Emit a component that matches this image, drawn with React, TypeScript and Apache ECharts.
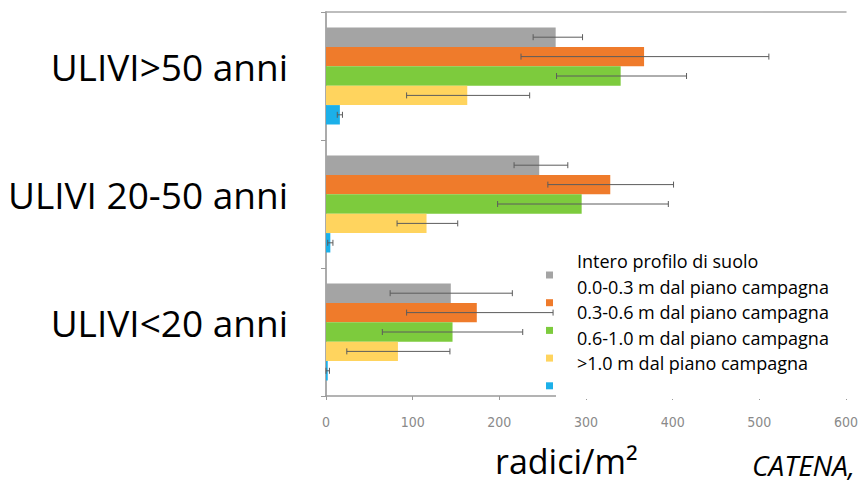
import React, { useEffect, useRef } from 'react';
import * as echarts from 'echarts';

const categories = ['ULIVI>50 anni', 'ULIVI 20-50 anni', 'ULIVI<20 anni'];
const seriesNames = [
  'Intero profilo di suolo',
  '0.0-0.3 m dal piano campagna',
  '0.3-0.6 m dal piano campagna',
  '0.6-1.0 m dal piano campagna',
  '>1.0 m dal piano campagna',
];
const colors = ['#a4a4a4', '#ef7b2b', '#7dcb3d', '#ffd45e', '#1cb0e9'];

// values per series (one per category)
const intero = [265, 246, 144];
const strato1 = [367, 328, 174];
const strato2 = [340, 295, 146];
const strato3 = [163, 116, 83];
const strato4 = [16, 5, 2];

// error bar low / high per series (one per category)
const interoLow = [239, 217, 74];
const interoHigh = [296, 279, 215];
const strato1Low = [225, 256, 93];
const strato1High = [511, 401, 262];
const strato2Low = [266, 198, 65];
const strato2High = [416, 395, 227];
const strato3Low = [93, 82, 24];
const strato3High = [235, 152, 143];
const strato4Low = [13, 2, 0];
const strato4High = [19, 8, 4];

const xTicks = { min: 0, max: 600, interval: 100 };

const values = [intero, strato1, strato2, strato3, strato4];
const lows = [interoLow, strato1Low, strato2Low, strato3Low, strato4Low];
const highs = [interoHigh, strato1High, strato2High, strato3High, strato4High];

const BAR_W = 19.4;
const FRAME = '#a8a8a8';

export default function App() {
  const ref = useRef<HTMLDivElement>(null);
  useEffect(() => {
    document.body.style.margin = '0';
    if (!ref.current) return;
    const chart = echarts.init(ref.current, undefined, { renderer: 'svg' });

    const errData: number[][] = [];
    values.forEach((_, s) => {
      categories.forEach((_, c) => {
        errData.push([c, s, lows[s][c], highs[s][c]]);
      });
    });

    const barSeries = values.map((v, i) => ({
      name: seriesNames[i],
      type: 'bar',
      data: v,
      barWidth: BAR_W,
      barGap: '0%',
      itemStyle: { color: colors[i] },
      z: 2,
    }));

    const option: any = {
      animation: false,
      grid: {
        left: 326,
        top: 12,
        right: 17,
        bottom: 89,
      },
      xAxis: [
        {
          type: 'value',
          min: xTicks.min,
          max: xTicks.max,
          interval: xTicks.interval,
          splitLine: { show: false },
          axisLine: { show: true, lineStyle: { color: '#9a9a9a', width: 1.5 } },
          axisTick: { show: true, length: 4, lineStyle: { color: '#9a9a9a' } },
          axisLabel: {
            color: '#8a8a8a',
            fontSize: 14,
            margin: 19,
            fontFamily: '"Liberation Sans Narrow", "DejaVu Sans Condensed", sans-serif',
          },
        },
        {
          type: 'value',
          position: 'top',
          min: xTicks.min,
          max: xTicks.max,
          interval: xTicks.interval,
          splitLine: { show: false },
          axisLine: { show: true, lineStyle: { color: FRAME, width: 1.5 } },
          axisTick: { show: false },
          axisLabel: { show: false },
        },
      ],
      yAxis: [
        {
          type: 'category',
          data: categories,
          inverse: true,
          axisLine: { show: true, lineStyle: { color: '#9a9a9a', width: 1.5 } },
          axisTick: { show: true, length: 5, lineStyle: { color: '#9a9a9a' } },
          splitLine: { show: false },
          axisLabel: {
            color: '#000',
            fontSize: 37,
            fontFamily: '"Open Sans", sans-serif',
            margin: 38,
            verticalAlign: 'bottom',
            lineHeight: 20,
          },
        },
        {
          type: 'category',
          data: categories,
          inverse: true,
          position: 'right',
          axisLine: { show: true, lineStyle: { color: FRAME, width: 1.5 } },
          axisTick: { show: false },
          axisLabel: { show: false },
          splitLine: { show: false },
        },
      ],
      legend: [
        {
          data: seriesNames,
          orient: 'vertical',
          left: 556,
          top: 240,
          itemWidth: 0,
          itemHeight: 0,
          itemGap: 5.5,
          padding: [11, 30, 26, 16],
          backgroundColor: '#ffffff',
          selectedMode: false,
          textStyle: { fontSize: 18, lineHeight: 20, color: '#000', fontFamily: '"Open Sans", sans-serif' },
          z: 5,
        },
        {
          data: seriesNames,
          orient: 'vertical',
          left: 546,
          top: 271.5,
          itemWidth: 7,
          itemHeight: 7,
          itemGap: 20.7,
          padding: 0,
          icon: 'rect',
          selectedMode: false,
          formatter: () => '',
          textStyle: { fontSize: 7, lineHeight: 7 },
          z: 6,
        },
      ],
      graphic: [
        {
          type: 'text',
          left: 495,
          top: 444,
          style: { text: 'radici/m²', font: '34px "Open Sans", sans-serif', fill: '#000' },
        },
        {
          type: 'text',
          left: 752,
          top: 451,
          style: { text: 'CATENA,', font: 'italic 28px "Open Sans", sans-serif', fill: '#000' },
        },
      ],
      series: [
        ...barSeries,
        {
          name: 'errori',
          type: 'custom',
          z: 3,
          data: errData,
          encode: { x: [2, 3], y: 0 },
          renderItem: (params: any, api: any) => {
            const cat = api.value(0);
            const s = api.value(1);
            const p1 = api.coord([api.value(2), cat]);
            const p2 = api.coord([api.value(3), cat]);
            const y = p1[1] + (s - 2) * BAR_W;
            const st = { stroke: '#5c5c5c', lineWidth: 1 };
            return {
              type: 'group',
              children: [
                { type: 'line', shape: { x1: p1[0], y1: y, x2: p2[0], y2: y }, style: st },
                { type: 'line', shape: { x1: p1[0], y1: y - 3, x2: p1[0], y2: y + 3 }, style: st },
                { type: 'line', shape: { x1: p2[0], y1: y - 3, x2: p2[0], y2: y + 3 }, style: st },
              ],
            };
          },
        },
      ],
    };
    chart.setOption(option);
    return () => chart.dispose();
  }, []);
  return <div ref={ref} style={{ width: 863, height: 485 }} />;
}
